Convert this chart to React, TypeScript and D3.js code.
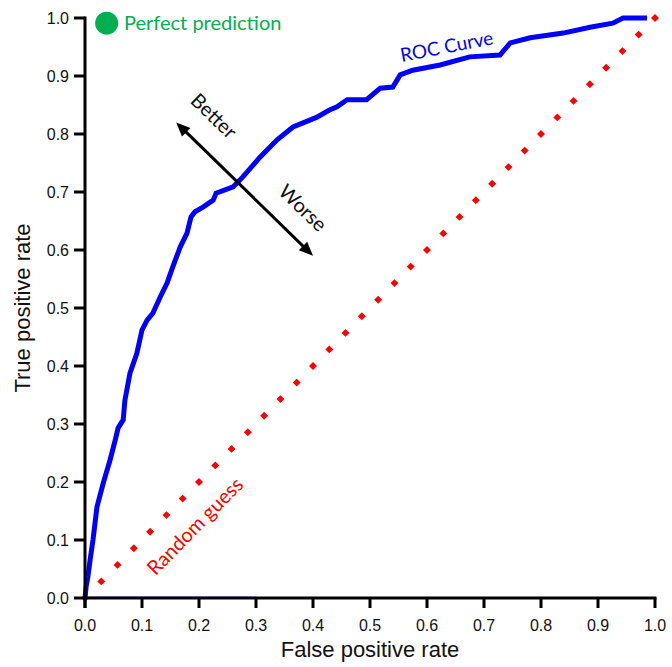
import React from "react";
import * as d3 from "d3";

// ROC curve points (false positive rate, true positive rate)
const rocFpr = [0, 0.002, 0.005, 0.009, 0.014, 0.021, 0.032, 0.044, 0.053, 0.058, 0.067, 0.07, 0.079, 0.091, 0.1, 0.109, 0.119, 0.132, 0.144, 0.154, 0.167, 0.179, 0.186, 0.193, 0.207, 0.225, 0.23, 0.26, 0.277, 0.307, 0.337, 0.365, 0.407, 0.428, 0.442, 0.46, 0.494, 0.518, 0.54, 0.553, 0.575, 0.623, 0.675, 0.728, 0.746, 0.781, 0.839, 0.886, 0.926, 0.944, 0.986];
const rocTpr = [0, 0.02, 0.036, 0.066, 0.1, 0.157, 0.198, 0.238, 0.272, 0.293, 0.307, 0.341, 0.388, 0.422, 0.462, 0.479, 0.491, 0.519, 0.543, 0.571, 0.605, 0.629, 0.657, 0.666, 0.674, 0.686, 0.698, 0.709, 0.726, 0.76, 0.79, 0.812, 0.829, 0.841, 0.847, 0.859, 0.859, 0.879, 0.881, 0.902, 0.91, 0.919, 0.933, 0.936, 0.957, 0.966, 0.974, 0.984, 0.991, 1.0, 1.0];

// Random guess diagonal marker positions
const randomGuess = [0, 0.0286, 0.0571, 0.0857, 0.1143, 0.1429, 0.1714, 0.2, 0.2286, 0.2571, 0.2857, 0.3143, 0.3429, 0.3714, 0.4, 0.4286, 0.4571, 0.4857, 0.5143, 0.5429, 0.5714, 0.6, 0.6286, 0.6571, 0.6857, 0.7143, 0.7429, 0.7714, 0.8, 0.8286, 0.8571, 0.8857, 0.9143, 0.9429, 0.9714, 1];

const xTicks = [0, 0.1, 0.2, 0.3, 0.4, 0.5, 0.6, 0.7, 0.8, 0.9, 1.0];
const yTicks = [0, 0.1, 0.2, 0.3, 0.4, 0.5, 0.6, 0.7, 0.8, 0.9, 1.0];

const perfectPoint = { x: 0.038, y: 0.991 };
const arrowStart = { x: 0.4, y: 0.59 };
const arrowEnd = { x: 0.16, y: 0.82 };
const baselineStrip = [0, 0.3];

const W = 672;
const H = 667;
const X0 = 85, X1 = 655, Y0 = 598, Y1 = 18;

export default function App() {
  const x = d3.scaleLinear().domain([0, 1]).range([X0, X1]);
  const y = d3.scaleLinear().domain([0, 1]).range([Y0, Y1]);
  const line = d3
    .line<number>()
    .x((_, i) => x(rocFpr[i]))
    .y((d) => y(d))
    .curve(d3.curveLinear);
  const rocPath = line(rocTpr) || "";

  const axisFont = "'Liberation Sans', Arial, sans-serif";
  const annFont = "Lato, 'Open Sans', sans-serif";

  const ax = x(arrowStart.x), ay = y(arrowStart.y);
  const bx = x(arrowEnd.x), by = y(arrowEnd.y);
  const ang = Math.atan2(by - ay, bx - ax);
  const head = (px: number, py: number, a: number) => {
    const L = 14, Wd = 6;
    const cx = px - L * Math.cos(a), cy = py - L * Math.sin(a);
    return `M${px},${py}L${cx + Wd * Math.sin(a)},${cy - Wd * Math.cos(a)}L${cx - Wd * Math.sin(a)},${cy + Wd * Math.cos(a)}Z`;
  };
  const shaft = (() => {
    const s = 10;
    return `M${ax + s * Math.cos(ang)},${ay + s * Math.sin(ang)}L${bx - s * Math.cos(ang)},${by - s * Math.sin(ang)}`;
  })();

  return (
    <svg width={W} height={H} style={{ position: "absolute", left: 0, top: 0, background: "#fff" }}>
      {/* faint baseline strip */}
      <line x1={x(baselineStrip[0])} x2={x(baselineStrip[1])} y1={y(0) - 1} y2={y(0) - 1} stroke="#8a8aff" strokeWidth={1.5} opacity={0.7} />

      {/* random guess diamonds */}
      {randomGuess.map((v, i) => (
        <rect key={i} x={x(v) - 2.8} y={y(v) - 2.8} width={5.6} height={5.6} fill="#ff0000" transform={`rotate(45 ${x(v)} ${y(v)})`} />
      ))}

      {/* ROC curve */}
      <path d={rocPath} fill="none" stroke="#0000ff" strokeWidth={5} strokeLinejoin="miter" />

      {/* axes */}
      <g stroke="#000" strokeWidth={3} fill="none">
        <line x1={X0} x2={X1 + 1.5} y1={Y0} y2={Y0} />
        <line x1={X0} x2={X0} y1={Y1 - 1.5} y2={Y0 + 10} />
        {xTicks.map((t) => (
          <line key={"xt" + t} x1={x(t)} x2={x(t)} y1={Y0} y2={Y0 + 10} />
        ))}
        {yTicks.map((t) => (
          <line key={"yt" + t} x1={X0 - 11} x2={X0} y1={y(t)} y2={y(t)} />
        ))}
      </g>
      <g fontFamily={axisFont} fontSize={16} fill="#111">
        {xTicks.map((t) => (
          <text key={"xl" + t} x={x(t)} y={631} textAnchor="middle">{t.toFixed(1)}</text>
        ))}
        {yTicks.map((t) => (
          <text key={"yl" + t} x={69} y={y(t) + 5.5} textAnchor="end">{t.toFixed(1)}</text>
        ))}
      </g>
      <text x={(X0 + X1) / 2} y={657} textAnchor="middle" fontFamily={axisFont} fontSize={22} fill="#111">False positive rate</text>
      <text transform={`translate(30, ${(Y0 + Y1) / 2}) rotate(-90)`} textAnchor="middle" fontFamily={axisFont} fontSize={22} fill="#111">True positive rate</text>

      {/* perfect prediction */}
      <circle cx={x(perfectPoint.x)} cy={y(perfectPoint.y)} r={11.5} fill="#00b050" />
      <text x={124} y={30} fontFamily={annFont} fontSize={20} fill="#00b050">Perfect prediction</text>

      {/* ROC label */}
      <text transform="translate(448, 53) rotate(-11)" textAnchor="middle" fontFamily={annFont} fontSize={19} fill="#0000ff">ROC Curve</text>

      {/* random guess label */}
      <text transform="translate(200, 531) rotate(-45.5)" textAnchor="middle" fontFamily={annFont} fontSize={20} fill="#ff0000">Random guess</text>

      {/* better / worse arrow */}
      <path d={shaft} stroke="#000" strokeWidth={3} fill="none" />
      <path d={head(bx, by, ang)} fill="#000" />
      <path d={head(ax, ay, ang + Math.PI)} fill="#000" />
      <text transform="translate(209, 121) rotate(44)" textAnchor="middle" fontFamily={annFont} fontSize={20} fill="#111">Better</text>
      <text transform="translate(298, 213) rotate(44)" textAnchor="middle" fontFamily={annFont} fontSize={20} fill="#111">Worse</text>
    </svg>
  );
}
